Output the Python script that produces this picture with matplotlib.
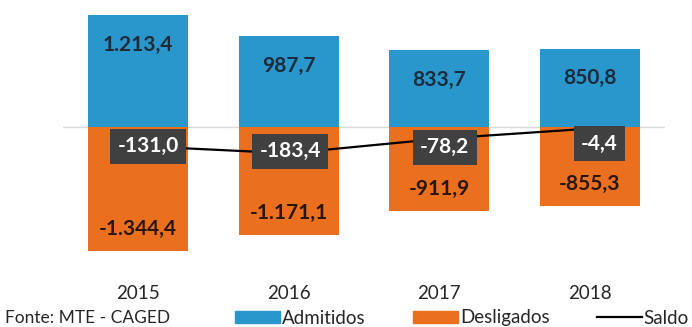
import numpy as np
import matplotlib.pyplot as plt
from matplotlib.patches import Patch
from matplotlib.lines import Line2D

plt.rcParams['font.family'] = ['Lato', 'DejaVu Sans']

########### Data ###############

anos = ['2015', '2016', '2017', '2018']
admitidos = [1213.4, 987.7, 833.7, 850.8]
desligados = [-1344.4, -1171.1, -911.9, -855.3]
saldo = [-131.0, -183.4, -78.2, -4.4]

azul = '#2996cc'
laranja = '#ea6f1f'
cinza = '#404040'


def fmt(v):
    # formato brasileiro: 1.213,4
    s = '{:,.1f}'.format(v)
    return s.replace(',', 'X').replace('.', ',').replace('X', '.')


########### Figure ###############

W, H = 692, 327
fig = plt.figure(figsize=(W / 100, H / 100), dpi=100)
fig.patch.set_facecolor('white')

# axes in pixel coords: x 63-665, y 0-275 (zero line at y=127)
top, bot, zero = 0, 275, 127
ax = fig.add_axes([63 / W, 1 - bot / H, (665 - 63) / W, (bot - top) / H])
x = np.arange(len(anos))

ax.bar(x, admitidos, width=0.667, color=azul, zorder=2)
ax.bar(x, desligados, width=0.667, color=laranja, zorder=2)
ax.axhline(0, color='#d9d9d9', lw=1, zorder=1)

u1 = 10.85  # units per pixel, primary
ax.set_ylim(-(bot - zero) * u1, (zero - top) * u1)
ax.set_xlim(-0.5, len(anos) - 0.5)

for xi, v in zip(x, admitidos):
    ax.annotate(fmt(v), (xi, v), xytext=(0, -21.5), textcoords='offset points',
                ha='center', va='center', fontsize=15, fontweight='bold',
                color='#1c2b3a', zorder=3)
for xi, v in zip(x, desligados):
    ax.annotate(fmt(v), (xi, v), xytext=(0, 16), textcoords='offset points',
                ha='center', va='center', fontsize=15, fontweight='bold',
                color='#2a1608', zorder=3)

ax.set_xticks(x)
ax.set_xticklabels(anos, fontsize=13.5, color='#262626')
ax.tick_params(axis='x', length=0, pad=7)
ax.set_yticks([])
for s in ax.spines.values():
    s.set_visible(False)

# saldo on secondary axis
ax2 = ax.twinx()
u2 = 7.25
ax2.set_ylim(-(bot - zero - 1) * u2, (zero + 1 - top) * u2)
ax2.plot(x, saldo, color='black', lw=1.6, zorder=2)
offs = [(7, 0), (1, 1.5), (4, -6), (7, -11)]
for xi, v, o in zip(x, saldo, offs):
    ax2.annotate(fmt(v), (xi, v), xytext=o, textcoords='offset points',
                 ha='center', va='center', fontsize=15, fontweight='bold',
                 color='white', zorder=4,
                 bbox=dict(boxstyle='square,pad=0.36', fc=cinza, ec='none'))
ax2.set_yticks([])
for s in ax2.spines.values():
    s.set_visible(False)

########### Legend ###############

fig.text(5 / W, 1 - 318 / H, 'Fonte: MTE - CAGED', fontsize=12.5,
         color='#262626', ha='left', va='center')

handles = [Patch(color=azul), Patch(color=laranja), Line2D([], [], color='black', lw=1.6)]
fig.legend(handles, ['Admitidos', 'Desligados', 'Saldo'], ncol=3, frameon=False,
           loc='center left', bbox_to_anchor=(235 / W, 1 - 318 / H),
           fontsize=13.5, handlelength=2.4, handleheight=0.55,
           handletextpad=0.12, columnspacing=2.5, labelcolor='#262626',
           borderaxespad=0, borderpad=0)

plt.savefig('out.png', dpi=100)
